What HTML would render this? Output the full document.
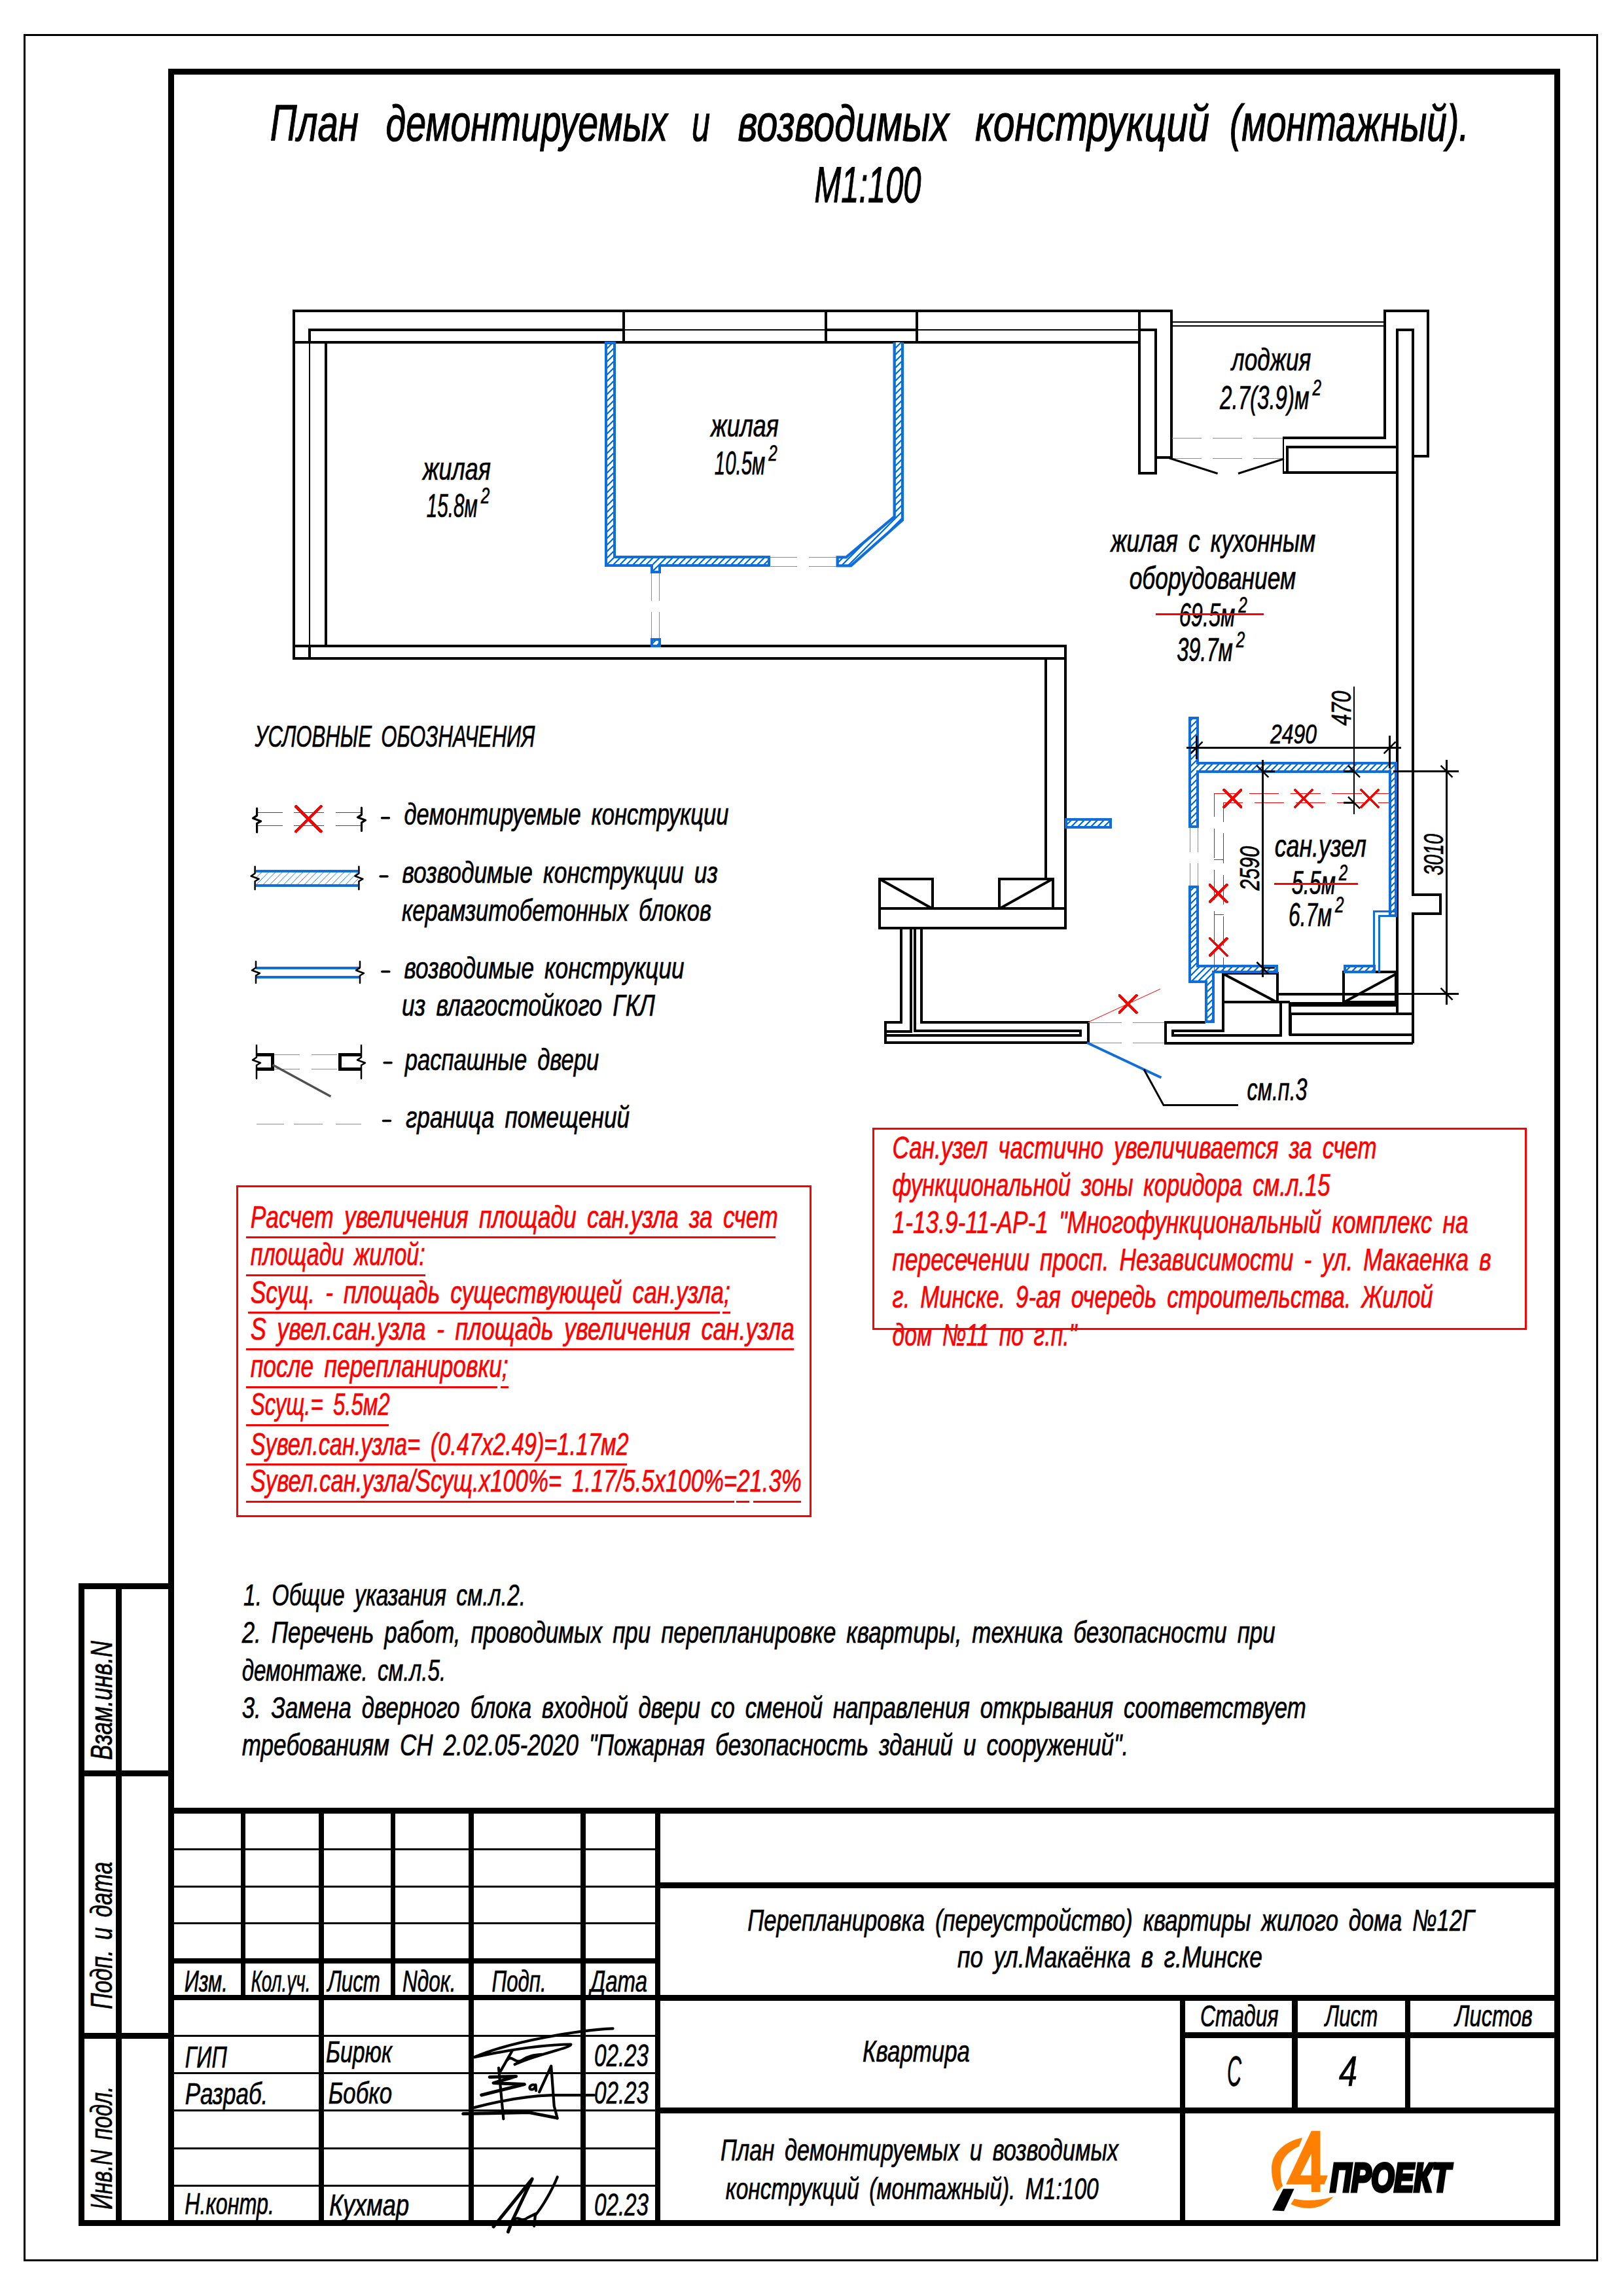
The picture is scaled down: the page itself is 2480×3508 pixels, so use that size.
<!DOCTYPE html>
<html lang="ru"><head><meta charset="utf-8"><title>План демонтируемых и возводимых конструкций</title>
<style>
html,body{margin:0;padding:0;background:#fff}
svg{display:block}
text{font-family:"Liberation Sans",sans-serif;font-style:italic;fill:#000;stroke:#000;stroke-width:0.7;word-spacing:0.18em;shape-rendering:auto}
</style></head><body>
<svg width="2480" height="3508" viewBox="0 0 2480 3508" fill="none" stroke="#000" stroke-linecap="butt" shape-rendering="crispEdges">
<defs>
<pattern id="h" width="10" height="10" patternUnits="userSpaceOnUse">
<rect width="10" height="10" fill="#fff" stroke="none"/>
<path d="M-2,12 L12,-2 M-7,7 L7,-7 M3,17 L17,3" stroke="#0f6edc" stroke-width="1.8"/>
</pattern>
<pattern id="h2" width="10.5" height="10.5" patternUnits="userSpaceOnUse">
<path d="M-2,12.5 L12.5,-2 M-7,7 L7,-7 M3.5,17.5 L17.5,3.5" stroke="#0f6edc" stroke-width="1"/>
</pattern>
</defs>
<rect width="2480" height="3508" fill="#fff" stroke="none"/>

<g id="frames">
<rect x="37.5" y="53.5" width="2403.0" height="3400.0" stroke-width="3.0"/>
<rect x="261.5" y="109.5" width="2118.0" height="3287.0" stroke-width="9.0"/>
<line x1="124.5" y1="2419.0" x2="124.5" y2="3401.0" stroke-width="9.0"/>
<line x1="181.5" y1="2423.0" x2="181.5" y2="3397.0" stroke-width="9.0"/>
<line x1="120.0" y1="2423.5" x2="262.0" y2="2423.5" stroke-width="9.0"/>
<line x1="120.0" y1="2709.0" x2="262.0" y2="2709.0" stroke-width="9.0"/>
<line x1="120.0" y1="3110.3" x2="262.0" y2="3110.3" stroke-width="9.0"/>
<line x1="120.0" y1="3396.5" x2="262.0" y2="3396.5" stroke-width="9.0"/>
<line x1="262.0" y1="2766.6" x2="2380.0" y2="2766.6" stroke-width="8.5"/>
<line x1="371.4" y1="2766.0" x2="371.4" y2="3053.0" stroke-width="7.0"/>
<line x1="600.4" y1="2766.0" x2="600.4" y2="3053.0" stroke-width="7.0"/>
<line x1="490.6" y1="2766.0" x2="490.6" y2="3397.0" stroke-width="8.0"/>
<line x1="719.7" y1="2766.0" x2="719.7" y2="3397.0" stroke-width="8.0"/>
<line x1="891.3" y1="2766.0" x2="891.3" y2="3397.0" stroke-width="8.0"/>
<line x1="1005.2" y1="2766.0" x2="1005.2" y2="3397.0" stroke-width="8.0"/>
<line x1="262.0" y1="2825.0" x2="1005.0" y2="2825.0" stroke-width="3.0"/>
<line x1="262.0" y1="2882.0" x2="1005.0" y2="2882.0" stroke-width="3.0"/>
<line x1="262.0" y1="2938.7" x2="1005.0" y2="2938.7" stroke-width="3.0"/>
<line x1="262.0" y1="2995.6" x2="1005.0" y2="2995.6" stroke-width="8.0"/>
<line x1="262.0" y1="3052.4" x2="1005.0" y2="3052.4" stroke-width="8.0"/>
<line x1="262.0" y1="3110.5" x2="1005.0" y2="3110.5" stroke-width="3.0"/>
<line x1="262.0" y1="3167.5" x2="1005.0" y2="3167.5" stroke-width="3.0"/>
<line x1="262.0" y1="3224.0" x2="1005.0" y2="3224.0" stroke-width="3.0"/>
<line x1="262.0" y1="3282.0" x2="1005.0" y2="3282.0" stroke-width="3.0"/>
<line x1="262.0" y1="3339.7" x2="1005.0" y2="3339.7" stroke-width="3.0"/>
<line x1="1005.0" y1="2880.5" x2="2380.0" y2="2880.5" stroke-width="8.5"/>
<line x1="1005.0" y1="3052.3" x2="2380.0" y2="3052.3" stroke-width="8.5"/>
<line x1="1005.0" y1="3224.5" x2="2380.0" y2="3224.5" stroke-width="8.5"/>
<line x1="1807.0" y1="3109.3" x2="2380.0" y2="3109.3" stroke-width="8.5"/>
<line x1="1807.2" y1="3052.0" x2="1807.2" y2="3397.0" stroke-width="8.5"/>
<line x1="1978.4" y1="3052.0" x2="1978.4" y2="3224.5" stroke-width="8.5"/>
<line x1="2151.0" y1="3052.0" x2="2151.0" y2="3224.5" stroke-width="8.5"/>
</g>
<g id="stamp-text">
<text transform="translate(171.0 2689.0) rotate(-90)" font-size="47.0" textLength="182.0" lengthAdjust="spacingAndGlyphs">Взам.инв.N</text>
<text transform="translate(171.0 3069.7) rotate(-90)" font-size="47.0" textLength="225.0" lengthAdjust="spacingAndGlyphs">Подп. и дата</text>
<text transform="translate(171.0 3375.7) rotate(-90)" font-size="47.0" textLength="188.0" lengthAdjust="spacingAndGlyphs">Инв.N подл.</text>
<text x="281.8" y="3043.3" font-size="45.5" textLength="66.0" lengthAdjust="spacingAndGlyphs">Изм.</text>
<text x="383.4" y="3043.3" font-size="45.5" textLength="91.0" lengthAdjust="spacingAndGlyphs">Кол.уч.</text>
<text x="500.4" y="3043.3" font-size="45.5" textLength="80.5" lengthAdjust="spacingAndGlyphs">Лист</text>
<text x="615.0" y="3043.3" font-size="45.5" textLength="81.5" lengthAdjust="spacingAndGlyphs">Nдок.</text>
<text x="751.6" y="3043.3" font-size="45.5" textLength="83.0" lengthAdjust="spacingAndGlyphs">Подп.</text>
<text x="902.0" y="3043.3" font-size="45.5" textLength="87.0" lengthAdjust="spacingAndGlyphs">Дата</text>
<text x="282.8" y="3158.6" font-size="46.5" textLength="64.0" lengthAdjust="spacingAndGlyphs">ГИП</text>
<text x="498.0" y="3151.4" font-size="46.5" textLength="101.0" lengthAdjust="spacingAndGlyphs">Бирюк</text>
<text x="908.0" y="3156.6" font-size="48.0" textLength="83.0" lengthAdjust="spacingAndGlyphs">02.23</text>
<text x="282.8" y="3215.3" font-size="46.5" textLength="126.5" lengthAdjust="spacingAndGlyphs">Разраб.</text>
<text x="501.7" y="3213.8" font-size="46.5" textLength="97.3" lengthAdjust="spacingAndGlyphs">Бобко</text>
<text x="908.0" y="3213.8" font-size="48.0" textLength="83.0" lengthAdjust="spacingAndGlyphs">02.23</text>
<text x="282.3" y="3382.8" font-size="46.5" textLength="136.7" lengthAdjust="spacingAndGlyphs">Н.контр.</text>
<text x="503.0" y="3384.6" font-size="46.5" textLength="122.0" lengthAdjust="spacingAndGlyphs">Кухмар</text>
<text x="908.0" y="3385.0" font-size="48.0" textLength="83.0" lengthAdjust="spacingAndGlyphs">02.23</text>
<text x="1142.2" y="2949.8" font-size="46.5" textLength="1110.5" lengthAdjust="spacingAndGlyphs">Перепланировка (переустройство) квартиры жилого дома №12Г</text>
<text x="1463.0" y="3006.3" font-size="46.5" textLength="466.0" lengthAdjust="spacingAndGlyphs">по ул.Макаёнка в г.Минске</text>
<text x="1318.0" y="3150.0" font-size="46.5" textLength="164.0" lengthAdjust="spacingAndGlyphs">Квартира</text>
<text x="1101.0" y="3301.0" font-size="46.0" textLength="608.0" lengthAdjust="spacingAndGlyphs">План демонтируемых и возводимых</text>
<text x="1108.8" y="3360.0" font-size="46.0" textLength="570.0" lengthAdjust="spacingAndGlyphs">конструкций (монтажный). М1:100</text>
<text x="1834.0" y="3096.0" font-size="46.0" textLength="119.5" lengthAdjust="spacingAndGlyphs">Стадия</text>
<text x="2024.8" y="3096.0" font-size="46.0" textLength="80.5" lengthAdjust="spacingAndGlyphs">Лист</text>
<text x="2223.3" y="3096.0" font-size="46.0" textLength="118.5" lengthAdjust="spacingAndGlyphs">Листов</text>
<text x="1875.0" y="3187.0" font-size="64.0" textLength="22.0" lengthAdjust="spacingAndGlyphs">С</text>
<text x="2046.0" y="3187.0" font-size="64.0" textLength="28.0" lengthAdjust="spacingAndGlyphs">4</text>
</g>
<g id="logo" stroke="none" shape-rendering="auto">
<path fill="#ff8000" d="M1990.2,3266.2 C1960,3272 1943,3292 1943,3313 C1943,3327 1946,3338 1951.4,3348 L1960,3340 C1957,3332 1956.5,3322 1956.7,3313.3 C1958,3298 1970,3286 1985,3279.5 Z"/>
<path fill="#ff8000" fill-rule="evenodd" d="M2003.8,3255.7 H2017.4 V3323.8 H2028.9 L2023.7,3337.4 H2017.4 V3348.9 H2003.8 V3337.4 H1965 Z M2003.8,3290.3 V3323.8 H1987 Z"/>
<path fill="#ff8000" d="M1977.6,3359.4 C1995,3363.5 2020,3362 2037.3,3356.3 C2030,3366 2016,3374 2001,3374 C1990,3374 1980,3371.5 1972.4,3367.8 Z"/>
<path fill="#000" d="M1960.9,3344.3 H1977.6 L1961.9,3378.3 L1944,3377.2 Z"/>
<text x="2032.5" y="3348" font-size="62" font-weight="bold" textLength="184" lengthAdjust="spacingAndGlyphs" style="stroke:#000;stroke-width:5;stroke-linejoin:miter;word-spacing:0">ПРОЕКТ</text>
</g>
<g id="sign" shape-rendering="auto">
<path d="M936.5,3099.4 C887.2,3101.4 778.7,3119.1 724.5,3143.2 C772.8,3132.9 828.0,3124.1 872.4,3123.5 C873.4,3129.0 818.2,3138.9 786.6,3154.2" stroke-width="4.2" stroke-linecap="round" stroke-linejoin="round"/>
<path d="M782.7,3133.3 L764.9,3164.5" stroke-width="4.2" stroke-linecap="round" stroke-linejoin="round"/>
<path d="M774.8,3147.7 C782.7,3137.9 786.6,3154.6 797.5,3147.7 C808.3,3140.8 816.2,3139.9 828.0,3138.9" stroke-width="4.2" stroke-linecap="round" stroke-linejoin="round"/>
<path d="M762.0,3159.6 L769.3,3237.4" stroke-width="4.2" stroke-linecap="round" stroke-linejoin="round"/>
<path d="M748.2,3173.4 L788.6,3172.4 L754.1,3182.6 L801.4,3184.6 L735.7,3201.0" stroke-width="5.0" stroke-linecap="round" stroke-linejoin="round"/>
<path d="M818.2,3186.2 C810.3,3182.2 806.3,3192.1 812.2,3192.5 C816.2,3192.5 818.2,3188.2 818.5,3185.4 L819.1,3194.1" stroke-width="4.2" stroke-linecap="round" stroke-linejoin="round"/>
<path d="M824.1,3196.4 L842.2,3156.6 L846.7,3217.7 L851.7,3236.5" stroke-width="4.2" stroke-linecap="round" stroke-linejoin="round"/>
<path d="M707.7,3229.6 L808.3,3227.6 L850.7,3235.9" stroke-width="5.0" stroke-linecap="round" stroke-linejoin="round"/>
<path d="M724.5,3220.1 C768.9,3208.3 808.3,3202.4 843.8,3201.2 L907.9,3201.2" stroke-width="4.2" stroke-linecap="round" stroke-linejoin="round"/>
<path d="M754.1,3402.1 L813.2,3329.1 L782.7,3393.2 L776.4,3410.0" stroke-width="5.0" stroke-linecap="round" stroke-linejoin="round"/>
<path d="M782.7,3393.2 C792.5,3383.3 796.5,3397.1 806.3,3388.3 L818.2,3382.4 L816.2,3401.1" stroke-width="4.2" stroke-linecap="round" stroke-linejoin="round"/>
<path d="M817.2,3385.3 C828.0,3373.5 843.8,3345.9 851.7,3326.2" stroke-width="4.2" stroke-linecap="round" stroke-linejoin="round"/>
</g>
<g id="title">
<text x="412.8" y="214.5" font-size="78.0" textLength="135.2" lengthAdjust="spacingAndGlyphs" style="stroke-width:1.2">План</text>
<text x="589.6" y="214.5" font-size="78.0" textLength="430.4" lengthAdjust="spacingAndGlyphs" style="stroke-width:1.2">демонтируемых</text>
<text x="1057.0" y="214.5" font-size="78.0" textLength="28.0" lengthAdjust="spacingAndGlyphs" style="stroke-width:1.2">и</text>
<text x="1127.5" y="214.5" font-size="78.0" textLength="322.5" lengthAdjust="spacingAndGlyphs" style="stroke-width:1.2">возводимых</text>
<text x="1490.0" y="214.5" font-size="78.0" textLength="358.0" lengthAdjust="spacingAndGlyphs" style="stroke-width:1.2">конструкций</text>
<text x="1879.0" y="214.5" font-size="78.0" textLength="365.5" lengthAdjust="spacingAndGlyphs" style="stroke-width:1.2">(монтажный).</text>
<text x="1244.5" y="309.0" font-size="78.0" textLength="163.0" lengthAdjust="spacingAndGlyphs" style="stroke-width:1.2">М1:100</text>
</g>
<g id="notes">
<text x="372.0" y="2453.0" font-size="47.0" textLength="431.0" lengthAdjust="spacingAndGlyphs">1. Общие указания см.л.2.</text>
<text x="369.7" y="2510.2" font-size="47.0" textLength="1579.0" lengthAdjust="spacingAndGlyphs">2. Перечень работ, проводимых при перепланировке квартиры, техника безопасности при</text>
<text x="369.7" y="2567.6" font-size="47.0" textLength="311.5" lengthAdjust="spacingAndGlyphs">демонтаже. см.л.5.</text>
<text x="369.7" y="2625.0" font-size="47.0" textLength="1626.0" lengthAdjust="spacingAndGlyphs">3. Замена дверного блока входной двери со сменой направления открывания соответствует</text>
<text x="369.7" y="2682.2" font-size="47.0" textLength="1354.5" lengthAdjust="spacingAndGlyphs">требованиям СН 2.02.05-2020 "Пожарная безопасность зданий и сооружений".</text>
</g>
<g id="redboxes">
<rect x="362.0" y="1812.7" width="876.5" height="503.8" stroke-width="3.0" stroke="#ff0000"/>
<text x="382.7" y="1875.5" font-size="48.0" textLength="806.0" lengthAdjust="spacingAndGlyphs" style="fill:#ff0000;stroke:#ff0000">Расчет увеличения площади сан.узла за счет</text>
<line x1="375.5" y1="1890.3" x2="1184.7" y2="1890.3" stroke-width="3.0" stroke="#ff0000"/>
<text x="382.7" y="1933.4" font-size="48.0" textLength="267.0" lengthAdjust="spacingAndGlyphs" style="fill:#ff0000;stroke:#ff0000">площади жилой:</text>
<line x1="375.5" y1="1948.2" x2="649.6" y2="1948.2" stroke-width="3.0" stroke="#ff0000"/>
<text x="382.7" y="1990.5" font-size="48.0" textLength="733.0" lengthAdjust="spacingAndGlyphs" style="fill:#ff0000;stroke:#ff0000">Sсущ. - площадь существующей сан.узла;</text>
<line x1="378.5" y1="2005.3" x2="1100.0" y2="2005.3" stroke-width="3.0" stroke="#ff0000"/>
<line x1="1104.0" y1="2005.3" x2="1116.0" y2="2005.3" stroke-width="3.0" stroke="#ff0000"/>
<text x="382.7" y="2046.7" font-size="48.0" textLength="831.0" lengthAdjust="spacingAndGlyphs" style="fill:#ff0000;stroke:#ff0000">S увел.сан.узла - площадь увеличения сан.узла</text>
<line x1="375.5" y1="2061.5" x2="1213.0" y2="2061.5" stroke-width="3.0" stroke="#ff0000"/>
<text x="382.7" y="2104.4" font-size="48.0" textLength="394.0" lengthAdjust="spacingAndGlyphs" style="fill:#ff0000;stroke:#ff0000">после перепланировки;</text>
<line x1="375.5" y1="2119.2" x2="760.0" y2="2119.2" stroke-width="3.0" stroke="#ff0000"/>
<line x1="765.0" y1="2119.2" x2="777.0" y2="2119.2" stroke-width="3.0" stroke="#ff0000"/>
<text x="382.7" y="2162.3" font-size="48.0" textLength="213.0" lengthAdjust="spacingAndGlyphs" style="fill:#ff0000;stroke:#ff0000">Sсущ.= 5.5м2</text>
<line x1="375.5" y1="2177.1" x2="594.0" y2="2177.1" stroke-width="3.0" stroke="#ff0000"/>
<text x="382.7" y="2222.7" font-size="48.0" textLength="578.0" lengthAdjust="spacingAndGlyphs" style="fill:#ff0000;stroke:#ff0000">Sувел.сан.узла= (0.47x2.49)=1.17м2</text>
<line x1="375.5" y1="2237.5" x2="958.0" y2="2237.5" stroke-width="3.0" stroke="#ff0000"/>
<text x="382.7" y="2279.3" font-size="48.0" textLength="842.0" lengthAdjust="spacingAndGlyphs" style="fill:#ff0000;stroke:#ff0000">Sувел.сан.узла/Sсущ.x100%= 1.17/5.5x100%=21.3%</text>
<line x1="375.5" y1="2294.1" x2="1122.0" y2="2294.1" stroke-width="3.0" stroke="#ff0000"/>
<line x1="1125.0" y1="2294.1" x2="1145.0" y2="2294.1" stroke-width="3.0" stroke="#ff0000"/>
<line x1="1151.0" y1="2294.1" x2="1224.0" y2="2294.1" stroke-width="3.0" stroke="#ff0000"/>
<rect x="1334.0" y="1724.3" width="997.0" height="306.5" stroke-width="3.0" stroke="#ff0000"/>
<text x="1363.6" y="1769.5" font-size="47.5" textLength="740.0" lengthAdjust="spacingAndGlyphs" style="fill:#ff0000;stroke:#ff0000">Сан.узел частично увеличивается за счет</text>
<text x="1363.6" y="1826.7" font-size="47.5" textLength="669.0" lengthAdjust="spacingAndGlyphs" style="fill:#ff0000;stroke:#ff0000">функциональной зоны коридора см.л.15</text>
<text x="1363.6" y="1884.0" font-size="47.5" textLength="880.0" lengthAdjust="spacingAndGlyphs" style="fill:#ff0000;stroke:#ff0000">1-13.9-11-АР-1 "Многофункциональный комплекс на</text>
<text x="1363.6" y="1941.2" font-size="47.5" textLength="915.0" lengthAdjust="spacingAndGlyphs" style="fill:#ff0000;stroke:#ff0000">пересечении просп. Независимости - ул. Макаенка в</text>
<text x="1363.6" y="1998.4" font-size="47.5" textLength="826.0" lengthAdjust="spacingAndGlyphs" style="fill:#ff0000;stroke:#ff0000">г. Минске. 9-ая очередь строительства. Жилой</text>
<text x="1363.6" y="2055.6" font-size="47.5" textLength="282.0" lengthAdjust="spacingAndGlyphs" style="fill:#ff0000;stroke:#ff0000">дом №11 по г.п."</text>
</g>
<g id="legend">
<text x="389.6" y="1140.5" font-size="47.0" textLength="428.0" lengthAdjust="spacingAndGlyphs">УСЛОВНЫЕ ОБОЗНАЧЕНИЯ</text>
<line x1="393.0" y1="1241.5" x2="431.6" y2="1241.5" stroke-width="1.0" stroke="#ff0000"/>
<line x1="449.0" y1="1241.5" x2="494.8" y2="1241.5" stroke-width="1.0" stroke="#ff0000"/>
<line x1="512.5" y1="1241.5" x2="552.0" y2="1241.5" stroke-width="1.0" stroke="#ff0000"/>
<line x1="393.0" y1="1261.5" x2="431.6" y2="1261.5" stroke-width="1.0" stroke="#ff0000"/>
<line x1="449.0" y1="1261.5" x2="494.8" y2="1261.5" stroke-width="1.0" stroke="#ff0000"/>
<line x1="512.5" y1="1261.5" x2="552.0" y2="1261.5" stroke-width="1.0" stroke="#ff0000"/>
<path d="M452.4,1232.3 L490.4,1270.3 M452.4,1270.3 L490.4,1232.3" stroke-width="4.5" stroke="#ff0000" stroke-linecap="round"/>
<path d="M392.6,1235.0 V1246.2 L386.6,1250.2 L398.6,1254.8 L392.6,1258.2 V1271.5" stroke-width="3.2" shape-rendering="auto" stroke-linecap="round" stroke-linejoin="round"/>
<path d="M552.5,1234.0 V1244.8 L546.5,1248.8 L558.5,1253.2 L552.5,1256.8 V1269.5" stroke-width="3.2" shape-rendering="auto" stroke-linecap="round" stroke-linejoin="round"/>
<line x1="583.5" y1="1249.7" x2="594.5" y2="1249.7" stroke-width="3.5" stroke-linecap="round" shape-rendering="auto"/>
<text x="617.5" y="1259.8" font-size="46.0" textLength="496.0" lengthAdjust="spacingAndGlyphs">демонтируемые конструкции</text>
<rect x="391" y="1331" width="156" height="22" fill="url(#h2)" stroke="none"/>
<line x1="390.8" y1="1331.0" x2="547.0" y2="1331.0" stroke-width="4.0" stroke="#0f6edc"/>
<line x1="390.8" y1="1353.0" x2="547.0" y2="1353.0" stroke-width="4.0" stroke="#0f6edc"/>
<path d="M389.6,1324.0 V1334.5 L383.6,1338.5 L395.6,1343.0 L389.6,1346.5 V1359.0" stroke-width="2.5" shape-rendering="auto" stroke-linecap="round" stroke-linejoin="round"/>
<path d="M548.4,1324.0 V1334.5 L542.4,1338.5 L554.4,1343.0 L548.4,1346.5 V1359.0" stroke-width="2.5" shape-rendering="auto" stroke-linecap="round" stroke-linejoin="round"/>
<line x1="581.0" y1="1339.0" x2="592.0" y2="1339.0" stroke-width="3.5" stroke-linecap="round" shape-rendering="auto"/>
<text x="614.4" y="1349.3" font-size="46.0" textLength="482.5" lengthAdjust="spacingAndGlyphs">возводимые конструкции из</text>
<text x="613.9" y="1406.7" font-size="46.0" textLength="473.0" lengthAdjust="spacingAndGlyphs">керамзитобетонных блоков</text>
<line x1="391.0" y1="1479.0" x2="550.0" y2="1479.0" stroke-width="4.0" stroke="#0f6edc"/>
<line x1="391.0" y1="1493.0" x2="550.0" y2="1493.0" stroke-width="4.0" stroke="#0f6edc"/>
<path d="M391.0,1469.0 V1478.5 L385.0,1482.5 L397.0,1487.0 L391.0,1490.5 V1502.0" stroke-width="2.5" shape-rendering="auto" stroke-linecap="round" stroke-linejoin="round"/>
<path d="M550.0,1469.0 V1478.5 L544.0,1482.5 L556.0,1487.0 L550.0,1490.5 V1502.0" stroke-width="2.5" shape-rendering="auto" stroke-linecap="round" stroke-linejoin="round"/>
<line x1="583.8" y1="1484.5" x2="594.8" y2="1484.5" stroke-width="3.5" stroke-linecap="round" shape-rendering="auto"/>
<text x="617.5" y="1494.6" font-size="46.0" textLength="428.0" lengthAdjust="spacingAndGlyphs">возводимые конструкции</text>
<text x="613.9" y="1551.7" font-size="46.0" textLength="387.0" lengthAdjust="spacingAndGlyphs">из влагостойкого ГКЛ</text>
<path d="M392,1611 H416 V1633 H392" stroke-width="5.0"/>
<path d="M552,1611 H519 V1633 H552" stroke-width="5.0"/>
<path d="M392.0,1597.0 V1615.5 L386.0,1619.5 L398.0,1624.0 L392.0,1627.5 V1648.0" stroke-width="2.5" shape-rendering="auto" stroke-linecap="round" stroke-linejoin="round"/>
<path d="M552.0,1597.0 V1615.5 L546.0,1619.5 L558.0,1624.0 L552.0,1627.5 V1648.0" stroke-width="2.5" shape-rendering="auto" stroke-linecap="round" stroke-linejoin="round"/>
<line x1="419.0" y1="1611.0" x2="458.0" y2="1611.0" stroke-width="1.0" stroke="#8c8c8c"/>
<line x1="476.0" y1="1611.0" x2="515.0" y2="1611.0" stroke-width="1.0" stroke="#8c8c8c"/>
<line x1="419.0" y1="1633.0" x2="458.0" y2="1633.0" stroke-width="1.0" stroke="#8c8c8c"/>
<line x1="476.0" y1="1633.0" x2="515.0" y2="1633.0" stroke-width="1.0" stroke="#8c8c8c"/>
<line x1="416.7" y1="1627.0" x2="505.4" y2="1675.3" stroke-width="3.5" stroke="#505050" shape-rendering="auto"/>
<line x1="587.1" y1="1623.8" x2="598.1" y2="1623.8" stroke-width="3.5" stroke-linecap="round" shape-rendering="auto"/>
<text x="618.8" y="1634.5" font-size="46.0" textLength="296.5" lengthAdjust="spacingAndGlyphs">распашные двери</text>
<line x1="392.0" y1="1717.0" x2="434.0" y2="1717.0" stroke-width="1.0" stroke="#8c8c8c"/>
<line x1="448.7" y1="1717.0" x2="493.0" y2="1717.0" stroke-width="1.0" stroke="#8c8c8c"/>
<line x1="512.8" y1="1717.0" x2="552.0" y2="1717.0" stroke-width="1.0" stroke="#8c8c8c"/>
<line x1="585.5" y1="1712.5" x2="596.5" y2="1712.5" stroke-width="3.5" stroke-linecap="round" shape-rendering="auto"/>
<text x="620.0" y="1723.0" font-size="46.0" textLength="342.0" lengthAdjust="spacingAndGlyphs">граница помещений</text>
</g>
<g id="plan">
<line x1="447.0" y1="475.0" x2="1791.6" y2="475.0" stroke-width="4.0"/>
<line x1="449.0" y1="475.0" x2="449.0" y2="1008.4" stroke-width="4.0"/>
<line x1="449.0" y1="523.0" x2="1741.0" y2="523.0" stroke-width="4.0"/>
<line x1="471.0" y1="504.0" x2="953.0" y2="504.0" stroke-width="4.0"/>
<line x1="953.0" y1="504.0" x2="1741.0" y2="504.0" stroke-width="2.0"/>
<line x1="1262.0" y1="504.0" x2="1401.0" y2="504.0" stroke-width="4.0"/>
<line x1="473.0" y1="502.0" x2="473.0" y2="523.0" stroke-width="4.0"/>
<line x1="473.0" y1="523.0" x2="473.0" y2="987.0" stroke-width="2.0"/>
<line x1="473.0" y1="987.0" x2="473.0" y2="1008.4" stroke-width="4.0"/>
<line x1="498.0" y1="523.0" x2="498.0" y2="987.0" stroke-width="4.0"/>
<line x1="449.0" y1="987.0" x2="1630.3" y2="987.0" stroke-width="4.0"/>
<line x1="447.0" y1="1006.4" x2="1630.3" y2="1006.4" stroke-width="4.0"/>
<line x1="953.0" y1="475.0" x2="953.0" y2="523.0" stroke-width="4.0"/>
<line x1="1262.0" y1="475.0" x2="1262.0" y2="523.0" stroke-width="4.0"/>
<line x1="1401.0" y1="475.0" x2="1401.0" y2="523.0" stroke-width="4.0"/>
<path d="M1741,475 V722.8 H1766 V503.6 H1741 M1789.6,475 V698.8 H1766" stroke-width="4.0"/>
<line x1="1790.0" y1="491.8" x2="2114.0" y2="491.8" stroke-width="1.5"/>
<line x1="1790.0" y1="498.0" x2="2114.0" y2="498.0" stroke-width="1.5"/>
<line x1="1791.0" y1="669.0" x2="1962.0" y2="669.0" stroke-width="1.0" stroke="#8c8c8c" stroke-dasharray="45 17"/>
<line x1="1791.0" y1="700.0" x2="1962.0" y2="700.0" stroke-width="1.0" stroke="#8c8c8c" stroke-dasharray="45 17"/>
<line x1="1787.0" y1="700.0" x2="1860.6" y2="723.5" stroke-width="3.0" shape-rendering="auto"/>
<line x1="1892.0" y1="723.5" x2="1962.0" y2="701.0" stroke-width="3.0" shape-rendering="auto"/>
<path d="M2115.5,670.7 V475 H2181.8 V696.5 H2159.7 M2117.5,668.7 H1960.2 M1960.2,722 H2134 M1967,722.8 V682.8 H2134" stroke-width="4.0"/>
<line x1="1961.2" y1="668.7" x2="1961.2" y2="722.7" stroke-width="2.0"/>
<path d="M2134.5,1548 V503.6 H2159.3 V1367 H2201 V1395.8 H2159.3 V1593.6" stroke-width="4.0"/>
<line x1="1628.3" y1="987.0" x2="1628.3" y2="1419.0" stroke-width="4.0"/>
<line x1="1597.5" y1="1006.4" x2="1597.5" y2="1342.7" stroke-width="4.0"/>
<rect x="1343.6" y="1342.7" width="81.0" height="45.6" stroke-width="4.0"/>
<line x1="1343.6" y1="1342.7" x2="1424.6" y2="1388.3" stroke-width="4.0" shape-rendering="auto"/>
<rect x="1527.4" y="1342.7" width="81.3" height="45.6" stroke-width="4.0"/>
<line x1="1608.7" y1="1342.7" x2="1527.4" y2="1388.3" stroke-width="4.0" shape-rendering="auto"/>
<rect x="1343.6" y="1388.3" width="284.7" height="29.5" stroke-width="4.0"/>
<path d="M1377,1417.8 V1561.8 H1353 V1593 H1662.6 V1561.8 H1408.4 V1417.8" stroke-width="4.0"/>
<path d="M1391.8,1417.8 V1576 H1353" stroke-width="4.0"/>
<path d="M1397.6,1417.8 V1574.7 H1651 V1581.8 H1353" stroke-width="4.0"/>
<line x1="1663.0" y1="1562.7" x2="1714.0" y2="1562.7" stroke-width="1.0" stroke="#8c8c8c"/>
<line x1="1731.0" y1="1562.7" x2="1781.0" y2="1562.7" stroke-width="1.0" stroke="#8c8c8c"/>
<line x1="1663.0" y1="1593.0" x2="1714.0" y2="1593.0" stroke-width="1.0" stroke="#8c8c8c"/>
<line x1="1731.0" y1="1593.0" x2="1781.0" y2="1593.0" stroke-width="1.0" stroke="#8c8c8c"/>
<line x1="1662.6" y1="1561.8" x2="1773.0" y2="1511.0" stroke-width="1.0" stroke="#ff0000" shape-rendering="auto"/>
<path d="M1710.6,1521.0 L1736.6,1547.0 M1710.6,1547.0 L1736.6,1521.0" stroke-width="4.0" stroke="#ff0000" stroke-linecap="round"/>
<line x1="1661.3" y1="1593.2" x2="1774.4" y2="1646.5" stroke-width="4.0" stroke="#0f6edc" shape-rendering="auto"/>
<path d="M1748,1634 L1778,1688.6 H1892" stroke-width="3.0" shape-rendering="auto"/>
<text x="1905.6" y="1680.5" font-size="49.0" textLength="92.0" lengthAdjust="spacingAndGlyphs">см.п.3</text>
<path d="M1841.8,1561.5 H1781.4 V1593.6 H2159.3" stroke-width="4.0"/>
<path d="M1869.4,1486.6 V1574.6 H1791.8 V1581.5 H1957.4 V1531.4" stroke-width="4.0"/>
<line x1="1869.4" y1="1531.4" x2="1970.5" y2="1531.4" stroke-width="4.0"/>
<rect x="1869.4" y="1486.6" width="82.1" height="44.8" stroke-width="4.0"/>
<line x1="1869.4" y1="1488.0" x2="1951.5" y2="1531.4" stroke-width="4.0" shape-rendering="auto"/>
<rect x="2053.3" y="1485.0" width="80.1" height="46.4" stroke-width="4.0"/>
<line x1="2133.4" y1="1488.0" x2="2053.3" y2="1531.4" stroke-width="4.0" shape-rendering="auto"/>
<line x1="1951.5" y1="1518.7" x2="2134.0" y2="1518.7" stroke-width="4.0"/>
<line x1="1970.5" y1="1534.5" x2="2134.0" y2="1534.5" stroke-width="6.5"/>
<line x1="1970.5" y1="1531.0" x2="1970.5" y2="1581.5" stroke-width="4.0"/>
<rect x="1972.0" y="1548.7" width="187.3" height="32.1" stroke-width="4.0"/>
</g>
<g id="newwalls">
<path d="M925.5,524 H938.8 V851.3 H1174.5 V864.3 H1007.8 V874.3 H995.5 V864.3 H925.5 Z" fill="url(#h)" stroke="#0f6edc" stroke-width="4" stroke-linejoin="miter"/>
<path d="M995.5,976.5 H1007.8 V987 H995.5 Z" fill="url(#h)" stroke="#0f6edc" stroke-width="4" stroke-linejoin="miter"/>
<line x1="995.6" y1="876.0" x2="995.6" y2="918.0" stroke-width="1.0" stroke="#8c8c8c"/>
<line x1="995.6" y1="935.0" x2="995.6" y2="975.0" stroke-width="1.0" stroke="#8c8c8c"/>
<line x1="1007.8" y1="876.0" x2="1007.8" y2="918.0" stroke-width="1.0" stroke="#8c8c8c"/>
<line x1="1007.8" y1="935.0" x2="1007.8" y2="975.0" stroke-width="1.0" stroke="#8c8c8c"/>
<line x1="1176.0" y1="851.0" x2="1218.0" y2="851.0" stroke-width="1.0" stroke="#8c8c8c"/>
<line x1="1236.0" y1="851.0" x2="1278.0" y2="851.0" stroke-width="1.0" stroke="#8c8c8c"/>
<line x1="1176.0" y1="865.0" x2="1218.0" y2="865.0" stroke-width="1.0" stroke="#8c8c8c"/>
<line x1="1236.0" y1="865.0" x2="1278.0" y2="865.0" stroke-width="1.0" stroke="#8c8c8c"/>
<path d="M1366.7,523 V789.5 L1293,851.3 H1279.7 V864.3 H1300.3 L1379,794.5 V523" fill="url(#h)" stroke="#0f6edc" stroke-width="4.3" shape-rendering="auto"/>
<path d="M1628.7,1251.5 H1697 V1263.5 H1628.7 Z" fill="url(#h)" stroke="#0f6edc" stroke-width="4" stroke-linejoin="miter"/>
<path d="M1817.8,1096.5 H1829.8 V1165.5 H2133.3 V1399 H2123.5 V1178.5 H1829.8 V1263.4 H1817.8 Z" fill="url(#h)" stroke="#0f6edc" stroke-width="4" stroke-linejoin="miter"/>
<path d="M1817.8,1355 H1829.8 V1475.5 H1950.5 V1485.3 H1854 V1561 H1843.3 V1499.5 H1817.8 Z" fill="url(#h)" stroke="#0f6edc" stroke-width="4" stroke-linejoin="miter"/>
<path d="M2054.5,1475.5 H2099.6 V1485.3 H2054.5 Z" fill="url(#h)" stroke="#0f6edc" stroke-width="4" stroke-linejoin="miter"/>
<path d="M2135,1392.7 H2099.6 V1486 M2135,1399 H2107 V1486" stroke-width="3.0" stroke="#0f6edc"/>
<line x1="1818.0" y1="1264.0" x2="1818.0" y2="1302.0" stroke-width="1.0" stroke="#8c8c8c"/>
<line x1="1818.0" y1="1319.0" x2="1818.0" y2="1353.6" stroke-width="1.0" stroke="#8c8c8c"/>
<line x1="1830.0" y1="1264.0" x2="1830.0" y2="1302.0" stroke-width="1.0" stroke="#8c8c8c"/>
<line x1="1830.0" y1="1319.0" x2="1830.0" y2="1353.6" stroke-width="1.0" stroke="#8c8c8c"/>
</g>
<g id="demo">
<line x1="1855.0" y1="1212.0" x2="2122.0" y2="1212.0" stroke-width="1.0" stroke="#ff0000" stroke-dasharray="45.5 17.7" stroke-dashoffset="9.4"/>
<line x1="1869.5" y1="1226.3" x2="2122.0" y2="1226.3" stroke-width="1.0" stroke="#ff0000" stroke-dasharray="45.5 17.7" stroke-dashoffset="16.1"/>
<line x1="1855.0" y1="1212.0" x2="1855.0" y2="1485.0" stroke-width="1.0" stroke="#ff0000" stroke-dasharray="45.5 17.7" stroke-dashoffset="9.4"/>
<line x1="1869.5" y1="1226.3" x2="1869.5" y2="1485.0" stroke-width="1.0" stroke="#ff0000" stroke-dasharray="45.5 17.7" stroke-dashoffset="16.1"/>
<line x1="1855.0" y1="1313.6" x2="1869.5" y2="1313.6" stroke-width="1.0" stroke="#ff0000"/>
<line x1="1855.0" y1="1397.0" x2="1869.5" y2="1397.0" stroke-width="1.0" stroke="#ff0000"/>
<path d="M1870.3,1207.0 L1896.3,1233.0 M1870.3,1233.0 L1896.3,1207.0" stroke-width="4.0" stroke="#ff0000" stroke-linecap="round"/>
<path d="M1979.0,1207.0 L2005.0,1233.0 M1979.0,1233.0 L2005.0,1207.0" stroke-width="4.0" stroke="#ff0000" stroke-linecap="round"/>
<path d="M2080.0,1207.0 L2106.0,1233.0 M2080.0,1233.0 L2106.0,1207.0" stroke-width="4.0" stroke="#ff0000" stroke-linecap="round"/>
<path d="M1848.8,1352.0 L1874.8,1378.0 M1848.8,1378.0 L1874.8,1352.0" stroke-width="4.0" stroke="#ff0000" stroke-linecap="round"/>
<path d="M1848.8,1433.7 L1874.8,1459.7 M1848.8,1459.7 L1874.8,1433.7" stroke-width="4.0" stroke="#ff0000" stroke-linecap="round"/>
</g>
<g id="dims">
<line x1="1813.0" y1="1142.3" x2="2141.3" y2="1142.3" stroke-width="2.5"/>
<line x1="1828.5" y1="1124.0" x2="1828.5" y2="1160.0" stroke-width="2.5"/>
<line x1="1819.5" y1="1151.3" x2="1837.5" y2="1133.3" stroke-width="2.5" shape-rendering="auto"/>
<line x1="2123.6" y1="1124.3" x2="2123.6" y2="1174.2" stroke-width="2.5"/>
<line x1="2114.6" y1="1151.3" x2="2132.6" y2="1133.3" stroke-width="2.5" shape-rendering="auto"/>
<text x="1941.0" y="1135.8" font-size="42.0" textLength="71.0" lengthAdjust="spacingAndGlyphs">2490</text>
<line x1="2069.0" y1="1048.9" x2="2069.0" y2="1244.0" stroke-width="2.5"/>
<line x1="2052.6" y1="1178.6" x2="2069.0" y2="1178.6" stroke-width="2.5"/>
<line x1="2060.0" y1="1169.6" x2="2078.0" y2="1187.6" stroke-width="2.5" shape-rendering="auto"/>
<line x1="2052.6" y1="1226.3" x2="2069.0" y2="1226.3" stroke-width="2.5"/>
<line x1="2060.0" y1="1217.3" x2="2078.0" y2="1235.3" stroke-width="2.5" shape-rendering="auto"/>
<text transform="translate(2064.0 1108.8) rotate(-90)" font-size="42.0" textLength="53.3" lengthAdjust="spacingAndGlyphs">470</text>
<line x1="1929.3" y1="1161.0" x2="1929.3" y2="1493.0" stroke-width="2.5"/>
<line x1="1929.3" y1="1178.6" x2="1948.3" y2="1178.6" stroke-width="2.5"/>
<line x1="1920.3" y1="1169.6" x2="1938.3" y2="1187.6" stroke-width="2.5" shape-rendering="auto"/>
<line x1="1929.3" y1="1479.0" x2="1948.3" y2="1479.0" stroke-width="2.5"/>
<line x1="1920.3" y1="1470.0" x2="1938.3" y2="1488.0" stroke-width="2.5" shape-rendering="auto"/>
<text transform="translate(1924.4 1360.4) rotate(-90)" font-size="42.0" textLength="67.5" lengthAdjust="spacingAndGlyphs">2590</text>
<line x1="2210.5" y1="1161.0" x2="2210.5" y2="1535.0" stroke-width="2.5"/>
<line x1="2129.0" y1="1178.6" x2="2229.0" y2="1178.6" stroke-width="2.5"/>
<line x1="2201.5" y1="1169.6" x2="2219.5" y2="1187.6" stroke-width="2.5" shape-rendering="auto"/>
<line x1="2134.0" y1="1518.7" x2="2229.0" y2="1518.7" stroke-width="2.5"/>
<line x1="2201.5" y1="1509.7" x2="2219.5" y2="1527.7" stroke-width="2.5" shape-rendering="auto"/>
<text transform="translate(2205.0 1337.5) rotate(-90)" font-size="42.0" textLength="63.5" lengthAdjust="spacingAndGlyphs">3010</text>
</g>
<g id="labels">
<text x="645.9" y="733.2" font-size="47.5" textLength="104.0" lengthAdjust="spacingAndGlyphs">жилая</text>
<text x="651.8" y="790.0" font-size="50.0" textLength="78.0" lengthAdjust="spacingAndGlyphs">15.8м</text>
<text x="734.8" y="769.0" font-size="34.5" textLength="13.5" lengthAdjust="spacingAndGlyphs">2</text>
<text x="1086.0" y="667.0" font-size="47.5" textLength="104.0" lengthAdjust="spacingAndGlyphs">жилая</text>
<text x="1091.8" y="725.0" font-size="50.0" textLength="77.5" lengthAdjust="spacingAndGlyphs">10.5м</text>
<text x="1174.3" y="704.0" font-size="34.5" textLength="13.5" lengthAdjust="spacingAndGlyphs">2</text>
<text x="1881.8" y="565.7" font-size="47.5" textLength="121.5" lengthAdjust="spacingAndGlyphs">лоджия</text>
<text x="1864.1" y="624.6" font-size="50.0" textLength="136.5" lengthAdjust="spacingAndGlyphs">2.7(3.9)м</text>
<text x="2005.6" y="603.6" font-size="34.5" textLength="13.5" lengthAdjust="spacingAndGlyphs">2</text>
<text x="1697.3" y="842.5" font-size="47.5" textLength="313.0" lengthAdjust="spacingAndGlyphs">жилая с кухонным</text>
<text x="1725.7" y="899.6" font-size="47.5" textLength="254.5" lengthAdjust="spacingAndGlyphs">оборудованием</text>
<text x="1801.8" y="957.4" font-size="50.0" textLength="85.5" lengthAdjust="spacingAndGlyphs">69.5м</text>
<text x="1892.3" y="936.4" font-size="34.5" textLength="13.5" lengthAdjust="spacingAndGlyphs">2</text>
<line x1="1766.3" y1="938.0" x2="1931.2" y2="938.0" stroke-width="3.0" stroke="#ff0000"/>
<text x="1798.2" y="1009.8" font-size="50.0" textLength="85.6" lengthAdjust="spacingAndGlyphs">39.7м</text>
<text x="1888.8" y="988.8" font-size="34.5" textLength="13.5" lengthAdjust="spacingAndGlyphs">2</text>
<text x="1947.7" y="1308.8" font-size="47.5" textLength="140.3" lengthAdjust="spacingAndGlyphs">сан.узел</text>
<text x="1973.8" y="1366.0" font-size="50.0" textLength="67.0" lengthAdjust="spacingAndGlyphs">5.5м</text>
<text x="2045.8" y="1345.0" font-size="34.5" textLength="13.5" lengthAdjust="spacingAndGlyphs">2</text>
<line x1="1947.2" y1="1350.4" x2="2074.7" y2="1350.4" stroke-width="3.2" stroke="#ff0000"/>
<text x="1969.0" y="1414.7" font-size="50.0" textLength="66.0" lengthAdjust="spacingAndGlyphs">6.7м</text>
<text x="2040.0" y="1393.7" font-size="34.5" textLength="13.5" lengthAdjust="spacingAndGlyphs">2</text>
</g>
</svg></body></html>
